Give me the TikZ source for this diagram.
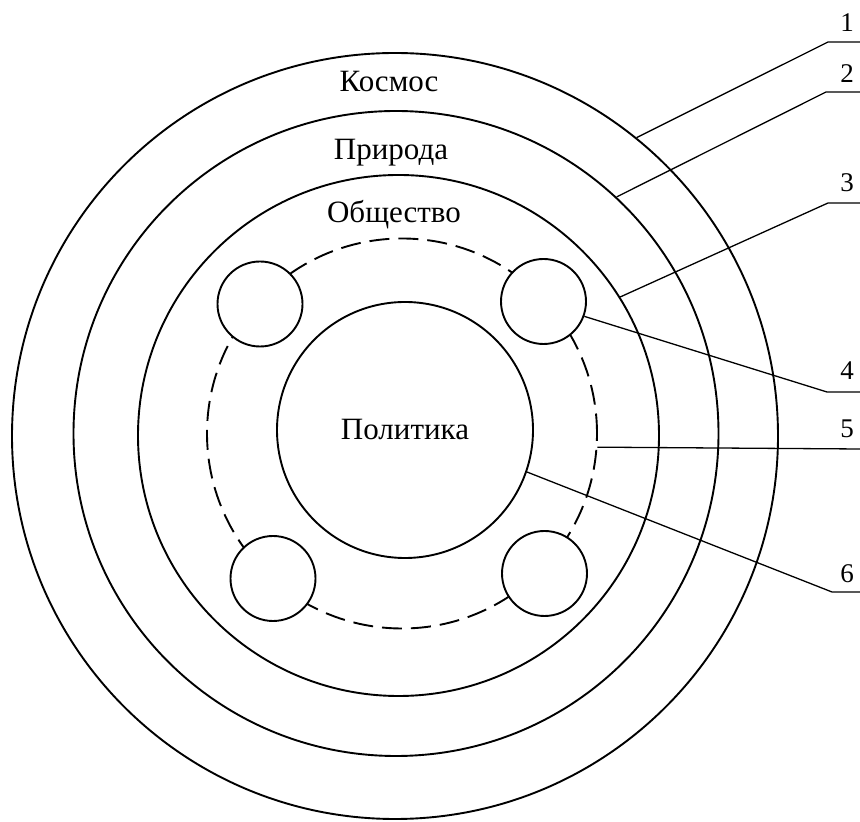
\documentclass[tikz,border=0pt]{standalone}
\usepackage{fontspec}
\setmainfont{Liberation Serif}

\begin{document}
\begin{tikzpicture}[
    x=1pt, y=1pt,
    ring/.style={draw, circle, line width=1.9pt, inner sep=0pt},
    sat/.style={draw, circle, line width=1.9pt, fill=white, inner sep=0pt, minimum size=85pt},
    leader/.style={line width=1.3pt},
    lbl/.style={font=\fontsize{31}{37}\selectfont, anchor=base, inner sep=0pt},
    num/.style={font=\fontsize{27}{32}\selectfont, anchor=base, inner sep=0pt}
]
\useasboundingbox (0,0) rectangle (860,822);

% Nested spheres
\node[ring, minimum size=766pt] (kosmos) at (395,386) {};
\node[ring, minimum size=645pt] (priroda) at (396,388.5) {};
\node[ring, minimum size=521pt] (obshch) at (398.5,386.5) {};
\node[ring, dash pattern=on 20pt off 9pt, minimum size=390pt] (sfera) at (402,388.5) {};
\node[ring, minimum size=256pt, font=\fontsize{31}{37}\selectfont] (polit) at (405,392) {Политика};

% Small spheres on the dashed ring
\node[sat] (sat1) at (260,518) {};
\node[sat] (sat2) at (543.5,520.5) {};
\node[sat] (sat3) at (273,243.5) {};
\node[sat] (sat4) at (544.5,248.5) {};

% Names of the spheres
\node[lbl] (tKosmos) at (389,730) {Космос};
\node[lbl] (tPriroda) at (391,662) {Природа};
\node[lbl] (tObshch) at (394,599) {Общество};

% Leaders
\coordinate (b1) at (828,780); \coordinate (e1) at (860,780);
\coordinate (b2) at (826,730); \coordinate (e2) at (860,730);
\coordinate (b3) at (828,619); \coordinate (e3) at (860,619);
\coordinate (b4) at (827,430); \coordinate (e4) at (860,430);
\coordinate (e5) at (860,373);
\coordinate (b6) at (832,230); \coordinate (e6) at (860,230);

\draw[leader] (kosmos.51) -- (b1) -- (e1);
\draw[leader] (priroda.47.8) -- (b2) -- (e2);
\draw[leader] (obshch.32.8) -- (b3) -- (e3);
\draw[leader] (sat2.-20.6) -- (b4) -- (e4);
\draw[leader] (sfera.-4.6) -- (e5);
\draw[leader] (polit.-19.7) -- (b6) -- (e6);

% Numbers
\node[num] (n1) at (847,790) {1};
\node[num] (n2) at (847,739) {2};
\node[num] (n3) at (847,630) {3};
\node[num] (n4) at (847,442) {4};
\node[num] (n5) at (847,384) {5};
\node[num] (n6) at (847,239) {6};

\end{tikzpicture}
\end{document}
